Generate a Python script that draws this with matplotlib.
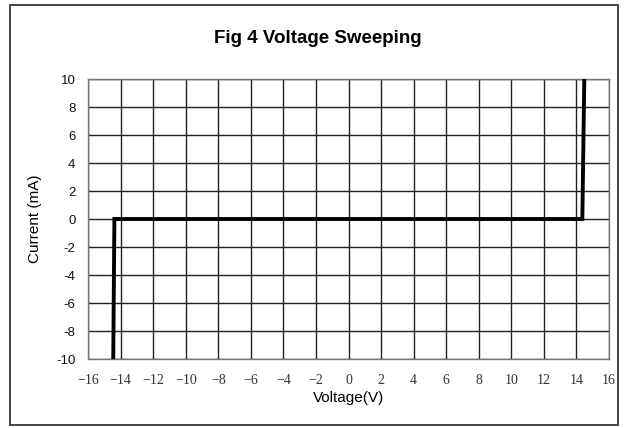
import matplotlib.pyplot as plt
from matplotlib.patches import Rectangle

# I-V sweep
voltage = [-14.45, -14.38, 14.36, 14.48]
current = [-10, 0, 0, 10]

x_ticks = list(range(-16, 17, 2))
y_ticks = list(range(-10, 11, 2))

fig = plt.figure(figsize=(6.26, 4.28), dpi=100)
ax = fig.add_axes([0.1406, 0.1612, 0.8323, 0.6542])

# outer frame around the whole chart
fig.patches.append(Rectangle((0.016, 0.007), 0.971, 0.982, transform=fig.transFigure,
                             fill=False, edgecolor='#444444', linewidth=1.4))

ax.plot(voltage, current, color='black', linewidth=2.8, solid_joinstyle='miter', zorder=3)

ax.set_xlim(-16, 16)
ax.set_ylim(-10, 10)
ax.set_xticks(x_ticks)
ax.set_yticks(y_ticks)
ax.set_xticklabels([f'\u2212{abs(t)}' if t < 0 else str(t) for t in x_ticks],
                   family='Liberation Serif', fontsize=10, color='#333333')
ax.set_yticklabels([str(t) for t in y_ticks], family='Liberation Sans', fontsize=9.5, color='#111111')
ax.tick_params(axis='both', length=0)
ax.tick_params(axis='y', pad=9)
ax.tick_params(axis='x', pad=11)
ax.grid(True, color='#222222', linewidth=1.0)
ax.set_axisbelow(True)
for s in ax.spines.values():
    s.set_color('#777777')
    s.set_linewidth(1.0)

ax.set_xlabel('Voltage(V)', family='Liberation Sans', fontsize=11, labelpad=3)
ax.set_ylabel('Current (mA)', family='Liberation Sans', fontsize=11, labelpad=10)
fig.text(0.507, 0.91, 'Fig 4 Voltage Sweeping', ha='center', va='center',
         family='Liberation Sans', fontsize=13.5, fontweight='bold')

fig.savefig('out.png', dpi=100)
